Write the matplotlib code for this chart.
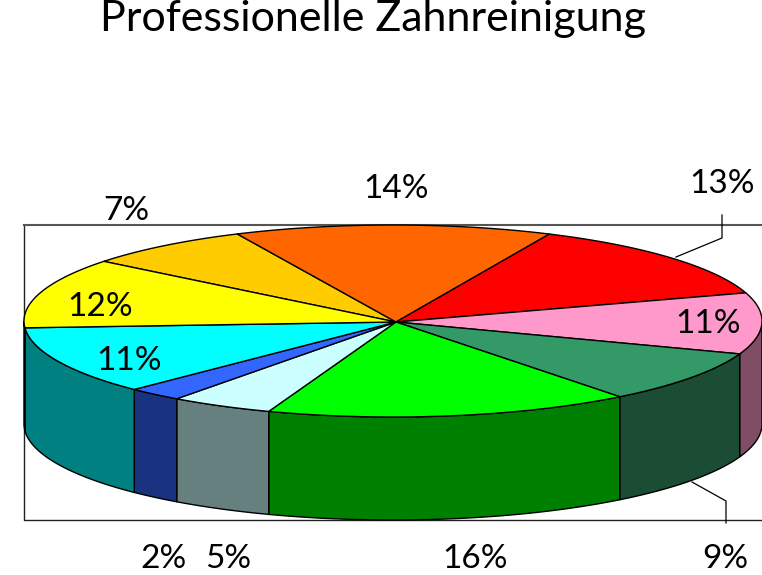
import matplotlib
matplotlib.use("Agg")
import matplotlib.pyplot as plt
from matplotlib.colors import to_rgb
from matplotlib.patches import Polygon
import numpy as np

plt.rcParams["font.family"] = ["Lato", "DejaVu Sans"]

TITLE = "Professionelle Zahnreinigung"

# clockwise from the gold slice; shares as measured off the tilted pie,
# the printed labels are what the reference shows
shares = [7.4, 13.9, 13.3, 10.3, 8.9, 16.0, 4.5, 2.4, 11.5, 11.8]
labels = ["7%", "14%", "13%", "11%", "9%", "16%", "5%", "2%", "11%", "12%"]
colors = ["#ffcc00", "#ff6600", "#ff0000", "#ff99cc", "#339966",
          "#00ff00", "#ccffff", "#3366ff", "#00ffff", "#ffff00"]
label_xy = [(126, 211), (396, 189), (722, 184), (708, 324), (725, 559),
            (475, 559), (228, 559), (163, 559), (129, 361), (100, 307)]

START_ANGLE = 141.6
CX, CY = 393, 321
RX, RY = 369, 96
HUB = (396, 322)
DEPTH = 103


def arc(a0, a1, drop=0.0):
    t = np.radians(np.linspace(a0, a1, 80))
    return np.column_stack([CX + RX * np.cos(t), CY + drop - RY * np.sin(t)])


fig = plt.figure(figsize=(7.62, 5.75), dpi=100)
ax = fig.add_axes([0, 0, 1, 1])
ax.set_xlim(0, 762)
ax.set_ylim(575, 0)
ax.axis("off")

# frame behind the pie
ax.plot([24, 24, 800], [225, 520, 520], color="#222222", lw=1.0, zorder=1)
ax.plot([24, 800], [225, 225], color="#555555", lw=1.5, zorder=1)

# leader lines for the two outside labels
ax.plot([722, 722, 676], [215, 238, 257], color="black", lw=0.9, zorder=2)
ax.plot([726, 726, 692], [523, 501, 482], color="black", lw=0.9, zorder=2)

edges = START_ANGLE - np.cumsum([0] + shares) * 3.6

# walls first, only the front half of the rim shows
for i, col in enumerate(colors):
    a0, a1 = edges[i], edges[i + 1]
    for shift in (0, -360):
        lo, hi = max(a1 + shift, -180), min(a0 + shift, 0)
        if hi <= lo:
            continue
        pts = np.vstack([arc(lo, hi), arc(hi, lo, DEPTH)])
        ax.add_patch(Polygon(pts, closed=True, facecolor=tuple(c * 0.5 for c in to_rgb(col)),
                             edgecolor="black", lw=1.0, zorder=3))

# top face
for i, col in enumerate(colors):
    pts = np.vstack([HUB, arc(edges[i], edges[i + 1])])
    ax.add_patch(Polygon(pts, closed=True, facecolor=col, edgecolor="black",
                         lw=1.0, joinstyle="round", zorder=4))

for lab, (x, y) in zip(labels, label_xy):
    ax.text(x, y, lab, fontsize=24, ha="center", va="center", color="black", zorder=5)

ax.text(373, 31, TITLE, fontsize=31, ha="center", va="baseline", color="black", zorder=5)

fig.savefig("out.png", dpi=100)
